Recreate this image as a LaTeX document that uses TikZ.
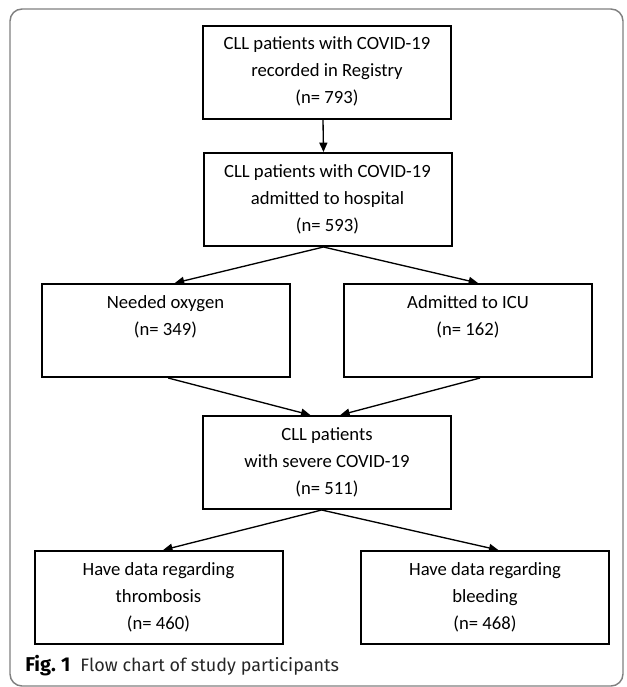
\documentclass[tikz,border=0pt]{standalone}
\usepackage{fontspec}
\setmainfont{Carlito}
\newfontfamily\capfont{Fira Sans}
\usetikzlibrary{arrows.meta}
\begin{document}
\begin{tikzpicture}[x=0.75pt,y=-0.75pt,
  boxst/.style={draw=black, line width=1.5pt, rectangle, minimum width=186pt, minimum height=69.75pt, inner sep=0pt},
  txt/.style={anchor=base, align=center, inner sep=0pt, font=\fontsize{14}{20.25}\selectfont},
  arr/.style={line width=1pt, -{Triangle[length=7pt,width=6pt]}},
  framest/.style={draw=black!50, line width=1.1pt, rounded corners=9pt}]
\useasboundingbox (0,0) rectangle (627,687);
\draw[framest] (10,9) rectangle (623,686);

\node[boxst] (b1) at (327,72) {};
\node[boxst] (b2) at (327.5,199.5) {};
\node[boxst] (L) at (165.5,330.5) {};
\node[boxst] (R) at (468,330.5) {};
\node[boxst] (b3) at (327,462.5) {};
\node[boxst] (BL) at (158.5,597.5) {};
\node[boxst] (BR) at (485,597.5) {};

% base anchor = baseline of last line
\node[txt] (t1) at ([yshift=-59.25pt]b1.north) {CLL patients with COVID-19\\recorded in Registry\\(n= 793)};
\node[txt] (t2) at ([yshift=-59.25pt]b2.north) {CLL patients with COVID-19\\admitted to hospital\\(n= 593)};
\node[txt] (tL) at ([yshift=-39pt]L.north) {Needed oxygen\\(n= 349)};
\node[txt] (tR) at ([yshift=-39pt]R.north) {Admitted to ICU\\(n= 162)};
\node[txt] (t3) at ([yshift=-59.25pt]b3.north) {CLL patients\\with severe COVID-19\\(n= 511)};
\node[txt] (tBL) at ([yshift=-59.25pt]BL.north) {Have data regarding\\thrombosis\\(n= 460)};
\node[txt] (tBR) at ([yshift=-59.25pt]BR.north) {Have data regarding\\bleeding\\(n= 468)};

\draw[arr] ([xshift=-3pt]b1.south) -- ([xshift=-3pt]b2.north);
\draw[arr] ([xshift=-3pt]b2.south) -- ([xshift=7pt]L.north);
\draw[arr] ([xshift=-3pt]b2.south) -- ([xshift=7.5pt]R.north);
\draw[arr] ([xshift=2pt]L.south) -- ([xshift=-12.5pt]b3.north);
\draw[arr] ([xshift=9pt]R.south) -- ([xshift=10pt]b3.north);
\draw[arr] ([xshift=-4pt]b3.south) -- ([xshift=3.5pt]BL.north);
\draw[arr] ([xshift=-4pt]b3.south) -- ([xshift=10pt]BR.north);

\node[anchor=base west, inner sep=0pt, font=\capfont\fontsize{13.5}{16}\selectfont] (cap) at (25,671)
  {{\fontsize{15}{16}\selectfont\textbf{Fig.\hspace{4pt}1}}\hspace{7.5pt}\color{black!85}Flow chart of study participants};
\end{tikzpicture}
\end{document}
